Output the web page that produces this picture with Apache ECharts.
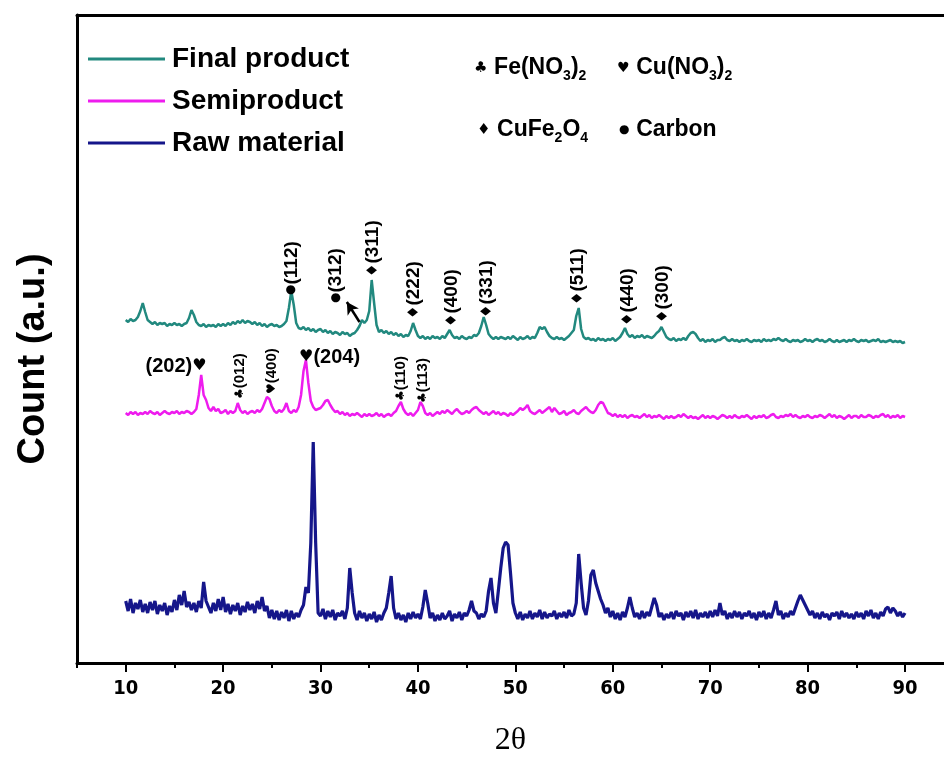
<!DOCTYPE html>
<html><head><meta charset="utf-8">
<script src="https://cdn.jsdelivr.net/npm/echarts@6/dist/echarts.min.js"></script>
<style>html,body{margin:0;padding:0;background:#fff}#c{width:944px;height:767px}</style>
</head><body><div id="c"></div>
<script>
// x grid of the scans: 10 to 90 deg in 0.25 deg steps
const xStart = 10, xStep = 0.25;
// intensities (arbitrary units, offset for stacking)
const finalProduct = [
343,341,344,342, 343,346,352,360, 351,343,341,339, 341,338,340,339, 340,337,339,338,
340,338,339,337, 339,340,345,353, 348,341,338,337, 339,336,338,337, 338,336,339,337,
339,337,340,338, 341,339,342,340, 343,340,342,341, 339,341,338,340, 337,339,336,338,
339,337,338,336, 337,339,342,355, 372,358,340,335, 334,336,333,335, 332,334,331,333,
334,331,333,330, 332,329,331,330, 328,331,329,330, 327,329,330,333, 337,343,340,343,
352,383,360,338, 331,333,330,332, 329,331,328,330, 327,329,326,328, 327,332,340,333,
327,325,327,324, 326,324,327,325, 326,324,327,325, 329,333,328,325, 326,324,327,325,
324,326,325,328, 327,330,337,346, 338,329,326,324, 326,324,326,325, 324,326,324,327,
325,323,326,324, 325,327,324,326, 325,330,336,334, 336,331,327,325, 324,326,324,325,
323,325,327,330, 333,347,355,334, 326,324,325,323, 324,322,325,323, 324,322,324,323,
325,322,324,326, 330,335,329,326, 328,325,327,326, 328,325,327,326, 325,327,330,332,
336,331,326,324, 323,325,322,324, 323,325,323,327, 330,331,329,325, 322,324,321,323,
322,324,321,323, 323,325,326,323, 322,324,322,323, 321,323,322,324, 322,321,323,322,
323,321,324,322, 323,322,324,323, 325,323,322,324, 322,321,323,322, 323,321,322,324,
322,323,321,323, 324,322,323,321, 322,324,322,321, 323,321,322,323, 321,323,322,324,
322,321,323,322, 323,321,322,323, 322,324,321,322, 321,322,323,321, 322,321,322,320,
321];
const semiproduct = [
250,248,251,249, 251,248,250,249, 251,249,252,250, 249,251,248,250, 252,250,249,251,
250,252,249,251, 250,252,251,249, 251,254,268,288, 268,263,255,252, 256,252,254,250,
251,253,249,252, 250,252,260,253, 250,252,249,251, 252,250,253,251, 254,260,266,264,
257,252,250,253, 251,254,260,252, 250,253,251,256, 268,292,303,280, 262,256,253,254,
255,258,262,263, 258,254,251,252, 249,251,248,250, 247,249,248,250, 248,246,249,247,
249,247,248,250, 247,249,246,248, 249,247,250,252, 257,261,254,250, 248,250,247,250,
253,261,257,250, 248,250,247,249, 251,249,252,250, 253,251,249,252, 254,251,249,250,
252,250,253,255, 256,253,251,249, 251,248,250,252, 249,251,248,250, 249,247,250,248,
250,252,255,253, 255,258,252,250, 249,251,253,250, 252,254,256,251, 255,252,249,250,
252,248,250,251, 253,250,249,252, 254,256,253,251, 250,253,258,261, 260,255,250,249,
247,249,246,248, 246,248,245,247, 248,246,247,245, 247,249,246,248, 245,247,246,248,
246,244,247,245, 247,245,246,248, 246,249,247,245, 247,245,246,244, 246,248,245,247,
245,247,246,244, 246,248,247,245, 247,245,248,246, 245,247,246,248, 246,244,247,245,
247,246,248,245, 246,248,249,246, 245,247,246,248, 247,249,246,248, 246,245,247,246,
248,246,245,247, 246,248,247,245, 247,249,246,248, 245,247,246,244, 246,248,245,247,
247,245,248,246, 246,248,247,245, 247,246,248,249, 246,248,245,247, 246,248,245,247,
246];
const rawMaterial = [
62,52,64,50, 60,54,63,51, 59,50,61,53, 62,49,58,52, 60,48,57,51,
63,53,68,58, 72,56,61,53, 60,51,62,55, 81,62,56,50, 60,52,64,53,
66,51,59,49, 58,52,60,48, 57,51,61,53, 59,50,62,54, 66,52,57,45,
53,44,52,43, 51,45,53,42, 52,44,50,46, 53,58,76,70, 120,221,120,50,
47,54,44,52, 46,53,43,50, 47,52,44,55, 95,70,50,43, 52,45,50,42,
49,44,51,41, 48,43,50,55, 70,87,55,44, 50,43,48,41, 50,44,51,45,
49,44,56,73, 60,45,50,42, 48,43,50,44, 47,52,42,49, 45,51,43,50,
47,53,62,52, 50,44,49,46, 52,72,85,60, 50,72,95,115, 121,118,90,60,
50,44,51,43, 49,45,52,44, 50,46,53,44, 51,45,49,47, 52,44,50,46,
51,45,53,47, 49,60,109,80, 55,48,62,88, 93,80,72,64, 58,50,55,46,
52,44,50,43, 51,46,55,66, 55,46,50,44, 52,45,51,47, 56,65,58,46,
50,43,49,45, 51,44,52,47, 50,43,51,46, 52,45,53,44, 50,46,51,45,
52,46,53,47, 60,48,52,44, 50,45,52,46, 51,44,50,47, 52,45,50,43,
51,46,52,44, 50,45,53,62, 48,52,44,50, 46,52,48,55, 62,68,63,58,
53,48,52,45, 50,44,51,46, 49,43,50,47, 51,44,52,46, 50,45,49,44,
51,46,50,44, 52,47,53,45, 50,44,51,47, 54,56,50,55, 52,47,51,46,
50];
const seriesNames = ['Final product', 'Semiproduct', 'Raw material'];
const seriesColors = ['#22897f', '#ee1cee', '#15168a'];
const seriesWidths = [2.5, 2.5, 3.2];
const xTickValues = [10,20,30,40,50,60,70,80,90];
const xMinorTickValues = [5,15,25,35,45,55,65,75,85];

// peak annotations (Final product): symbol key: cir = Carbon, dia = CuFe2O4
const finalPeakX = [27.0, 31.56, 35.36, 39.57, 43.47, 47.06, 56.41, 61.54, 65.13];
const finalPeakY = [368, 360, 386, 344, 336, 345, 358, 337, 340];
const finalPeakSym = ['cir','cir','dia','dia','dia','dia','dia','dia','dia'];
const finalPeakHkl = ['(112)','(312)','(311)','(222)','(400)','(331)','(511)','(440)','(300)'];
// peak annotations (Semiproduct), rotated: clu = Fe(NO3)2, hea = Cu(NO3)2
const semiRotX = [21.7, 25.0, 38.2, 40.49];
const semiRotY = [264, 269, 262, 260];
const semiRotSym = ['clu','hea','clu','clu'];
const semiRotHkl = ['(012)','(400)','(110)','(113)'];
// horizontal annotations (Semiproduct)
const semiLeftLabel = {x: 18.3, y: 297, text: '(202)', sym: 'hea'};
const semiRightLabel = {x: 27.8, y: 306, text: '(204)', sym: 'hea'};
const arrowStart = [34.0, 341], arrowEnd = [32.7, 361];

const GLYPH = {cir: '●', dia: '♦', clu: '♣', hea: '♥'};
const toPairs = arr => arr.map((v, i) => [xStart + i * xStep, v]);
const FONT = "'Liberation Sans', Arial, sans-serif";
const SYMFONT = "'DejaVu Sans', sans-serif";

const chart = echarts.init(document.getElementById('c'), null, {renderer: 'canvas'});

const lineSeries = [finalProduct, semiproduct, rawMaterial].map((d, k) => ({
  name: seriesNames[k], type: 'line', data: toPairs(d), showSymbol: false, symbol: 'none',
  lineStyle: {width: seriesWidths[k], color: seriesColors[k]}, itemStyle: {color: seriesColors[k]},
  silent: true, animation: false, z: 2
}));

const tb = {textBorderWidth: 0, textShadowBlur: 0, color: '#000', fontWeight: 'bold'};
const st = (size, fam) => Object.assign({fontSize: size, fontFamily: fam}, tb);
const rotRich = {
  cir: st(12, SYMFONT), dia: st(15, SYMFONT), clu: st(12, SYMFONT), hea: st(12, SYMFONT),
  t: st(19, FONT), ts: st(15, FONT)
};
const baseLabel = {show: true, position: 'inside', color: '#000', textBorderWidth: 0, textBorderColor: 'transparent'};
const annoItem = {color: 'rgba(0,0,0,0)', opacity: 1};

const finalAnno = {
  type: 'scatter', symbolSize: 1, itemStyle: annoItem, silent: true, animation: false,
  data: finalPeakX.map((x, i) => ({value: [x, finalPeakY[i]], s: finalPeakSym[i], h: finalPeakHkl[i]})),
  label: Object.assign({}, baseLabel, {rotate: 90, align: 'left', verticalAlign: 'middle',
    formatter: p => '{' + p.data.s + '|' + GLYPH[p.data.s] + '}{t|' + p.data.h + '}', rich: rotRich}),
  markLine: {silent: true, symbol: ['none', 'arrow'], symbolSize: [10, 12], animation: false,
    lineStyle: {color: '#000', width: 2.5, type: 'solid', opacity: 1}, label: {show: false},
    data: [[{coord: arrowStart}, {coord: arrowEnd}]]}
};
const semiAnno = {
  type: 'scatter', symbolSize: 1, itemStyle: annoItem, silent: true, animation: false,
  data: semiRotX.map((x, i) => ({value: [x, semiRotY[i]], s: semiRotSym[i], h: semiRotHkl[i]})),
  label: Object.assign({}, baseLabel, {rotate: 90, align: 'left', verticalAlign: 'middle',
    formatter: p => '{' + p.data.s + '|' + GLYPH[p.data.s] + '}{ts|' + p.data.h + '}', rich: rotRich})
};
const semiFlat = {
  type: 'scatter', symbolSize: 1, itemStyle: annoItem, silent: true, animation: false,
  data: [
    {value: [semiLeftLabel.x, semiLeftLabel.y], label: {align: 'right', formatter: '{t|' + semiLeftLabel.text + '}{s|' + GLYPH[semiLeftLabel.sym] + '}'}},
    {value: [semiRightLabel.x, semiRightLabel.y], label: {align: 'left', formatter: '{s|' + GLYPH[semiRightLabel.sym] + '}{t|' + semiRightLabel.text + '}'}}
  ],
  label: Object.assign({}, baseLabel, {verticalAlign: 'middle', rich: {s: st(16, SYMFONT), t: st(20, FONT)}})
};

const keyRich = {
  cir: {fontSize: 12, fontFamily: SYMFONT, fontWeight: 'bold', fill: '#000', lineHeight: 28},
  dia: {fontSize: 15, fontFamily: SYMFONT, fontWeight: 'bold', fill: '#000', lineHeight: 28},
  clu: {fontSize: 15, fontFamily: SYMFONT, fontWeight: 'bold', fill: '#000', lineHeight: 28},
  hea: {fontSize: 14, fontFamily: SYMFONT, fontWeight: 'bold', fill: '#000', lineHeight: 28},
  b: {fontSize: 23, fontFamily: FONT, fontWeight: 'bold', fill: '#000', lineHeight: 28},
  sub: {fontSize: 14, fontFamily: FONT, fontWeight: 'bold', fill: '#000', padding: [16, 0, 0, 0], lineHeight: 28}
};
function keyText(x, y, sym, body) {
  return {type: 'text', x: x, y: y, silent: true,
    style: {text: '{' + sym + '|' + GLYPH[sym] + '}  ' + body, rich: keyRich, verticalAlign: 'middle', fill: '#000'}};
}

chart.setOption({
  animation: false,
  backgroundColor: '#fff',
  grid: {left: 77, top: 15, right: 0, bottom: 104},
  legend: {
    orient: 'vertical', left: 88, top: 45, padding: 0, itemGap: 14, itemWidth: 77, itemHeight: 3,
    icon: 'rect', data: seriesNames,
    textStyle: {fontSize: 28, fontWeight: 'bold', fontFamily: FONT, color: '#000', lineHeight: 28, padding: [0, 0, 0, 2]}
  },
  xAxis: [
    {type: 'value', min: 5, max: 94, interval: 5, position: 'bottom',
      axisLine: {show: true, lineStyle: {color: '#000', width: 3}},
      axisTick: {show: true, customValues: xTickValues, length: 9, lineStyle: {color: '#000', width: 2}},
      axisLabel: {show: true, customValues: xTickValues, margin: 16, fontSize: 20, fontWeight: 'bold',
        fontFamily: "'Liberation Sans Narrow', 'DejaVu Sans Condensed', Arial, sans-serif", color: '#000'},
      splitLine: {show: false},
      name: '2θ', nameLocation: 'middle', nameGap: 62,
      nameTextStyle: {fontFamily: "'Liberation Serif', 'Times New Roman', serif", fontSize: 32, color: '#000'}},
    {type: 'value', min: 5, max: 94, interval: 5, position: 'bottom',
      axisLine: {show: false},
      axisTick: {show: true, customValues: xMinorTickValues, length: 5, lineStyle: {color: '#000', width: 2}},
      axisLabel: {show: false}, splitLine: {show: false}},
    {type: 'value', min: 5, max: 94, position: 'top',
      axisLine: {show: true, lineStyle: {color: '#000', width: 3}},
      axisTick: {show: false}, axisLabel: {show: false}, splitLine: {show: false}}
  ],
  yAxis: {type: 'value', min: 0, max: 648,
    axisLine: {show: true, lineStyle: {color: '#000', width: 3}},
    axisTick: {show: false}, axisLabel: {show: false}, splitLine: {show: false}},
  series: [...lineSeries, finalAnno, semiAnno, semiFlat],
  graphic: [
    {type: 'text', x: 34, y: 359, rotation: Math.PI / 2, silent: true,
      style: {text: 'Count (a.u.)', fontSize: 38, fontWeight: 'bold', fontFamily: FONT, fill: '#000',
        align: 'center', verticalAlign: 'middle'}},
    keyText(474, 68, 'clu', '{b|Fe(NO}{sub|3}{b|)}{sub|2}'),
    keyText(617, 68, 'hea', '{b|Cu(NO}{sub|3}{b|)}{sub|2}'),
    keyText(477, 130, 'dia', '{b|CuFe}{sub|2}{b|O}{sub|4}'),
    keyText(619, 130, 'cir', '{b|Carbon}')
  ]
});
</script></body></html>
